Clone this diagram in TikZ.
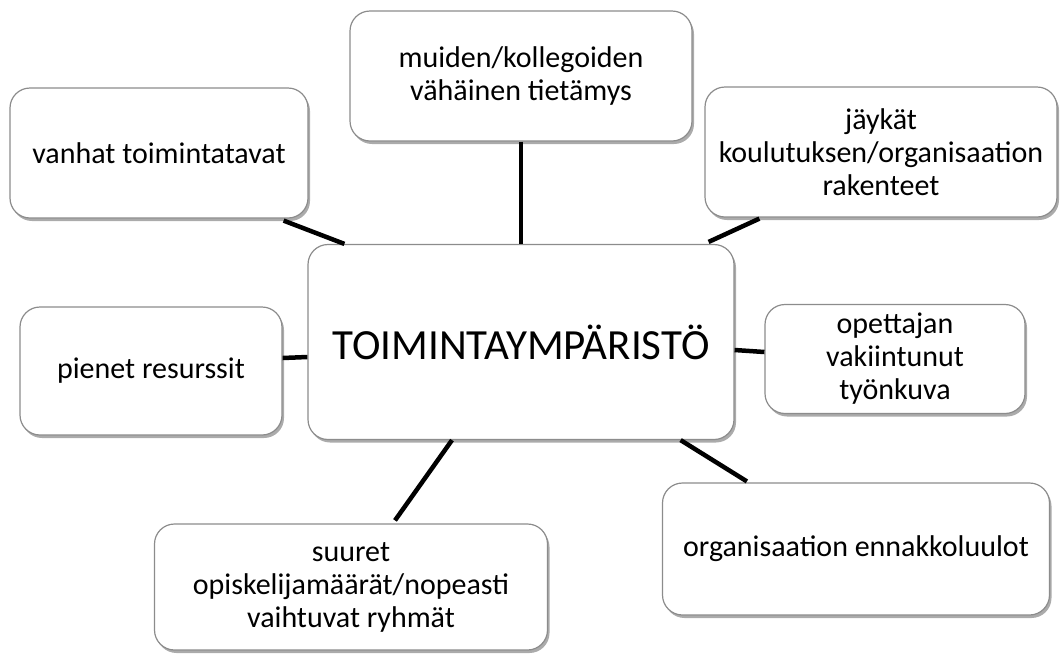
\documentclass[tikz,border=0pt]{standalone}
\usepackage{fontspec}
\setmainfont{Carlito}
\usetikzlibrary{positioning, calc, shadows}

\begin{document}
\begin{tikzpicture}[x=1pt, y=-1pt,
    idea/.style={draw=gray!90, line width=1.2pt, fill=white, rounded corners=20pt,
      align=center, font=\fontsize{30}{33}\selectfont, inner sep=0pt,
      drop shadow={shadow xshift=2pt, shadow yshift=-3pt, fill=black!55, opacity=.6}},
    link/.style={line width=4.5pt, black}]
  \useasboundingbox (0,0) rectangle (1060,657);
  % middle box
  \node[idea, minimum width=426pt, minimum height=195pt, font=\fontsize{43}{48}\selectfont]
    (hub) at (521,342) {TOIMINTAYMPÄRISTÖ};
  % boxes around it
  \node[idea, minimum width=298pt, minimum height=130pt] (vanhat) at (159,153) {vanhat toimintatavat};
  \node[idea, minimum width=342pt, minimum height=130pt] (muiden) at (521,76)
    {muiden/kollegoiden\\vähäinen tietämys};
  \node[idea, minimum width=352pt, minimum height=130pt] (jaykat) at (881,152)
    {jäykät\\koulutuksen/organisaation\\rakenteet};
  \node[idea, minimum width=262pt, minimum height=128pt] (pienet) at (151,371) {pienet resurssit};
  \node[idea, minimum width=260pt, minimum height=109pt] (opettajan) at (895,359)
    {opettajan\\vakiintunut\\työnkuva};
  \node[idea, minimum width=393pt, minimum height=126pt] (suuret) at (351,587)
    {suuret\\opiskelijamäärät/nopeasti\\vaihtuvat ryhmät};
  \node[idea, minimum width=387pt, minimum height=132pt] (ennakko) at (856,549)
    {organisaation ennakkoluulot};
  % spokes
  \draw[link] ($(vanhat.south east)+(-25,2)$) -- ($(hub.north west)+(37,0)$);
  \draw[link] (muiden.south) -- (hub.north);
  \draw[link] ($(hub.north east)+(-26,-2)$) -- ($(jaykat.south west)+(55,1)$);
  \draw[link] ($(pienet.east)+(0,-13)$) -- ($(hub.west)+(0,15)$);
  \draw[link] ($(hub.east)+(0,8)$) -- ($(opettajan.west)+(0,-7)$);
  \draw[link] ($(hub.south)+(-69,0)$) -- ($(suuret.north)+(44,-3)$);
  \draw[link] ($(hub.south east)+(-54,0)$) -- ($(ennakko.north west)+(85,-1)$);
\end{tikzpicture}
\end{document}
